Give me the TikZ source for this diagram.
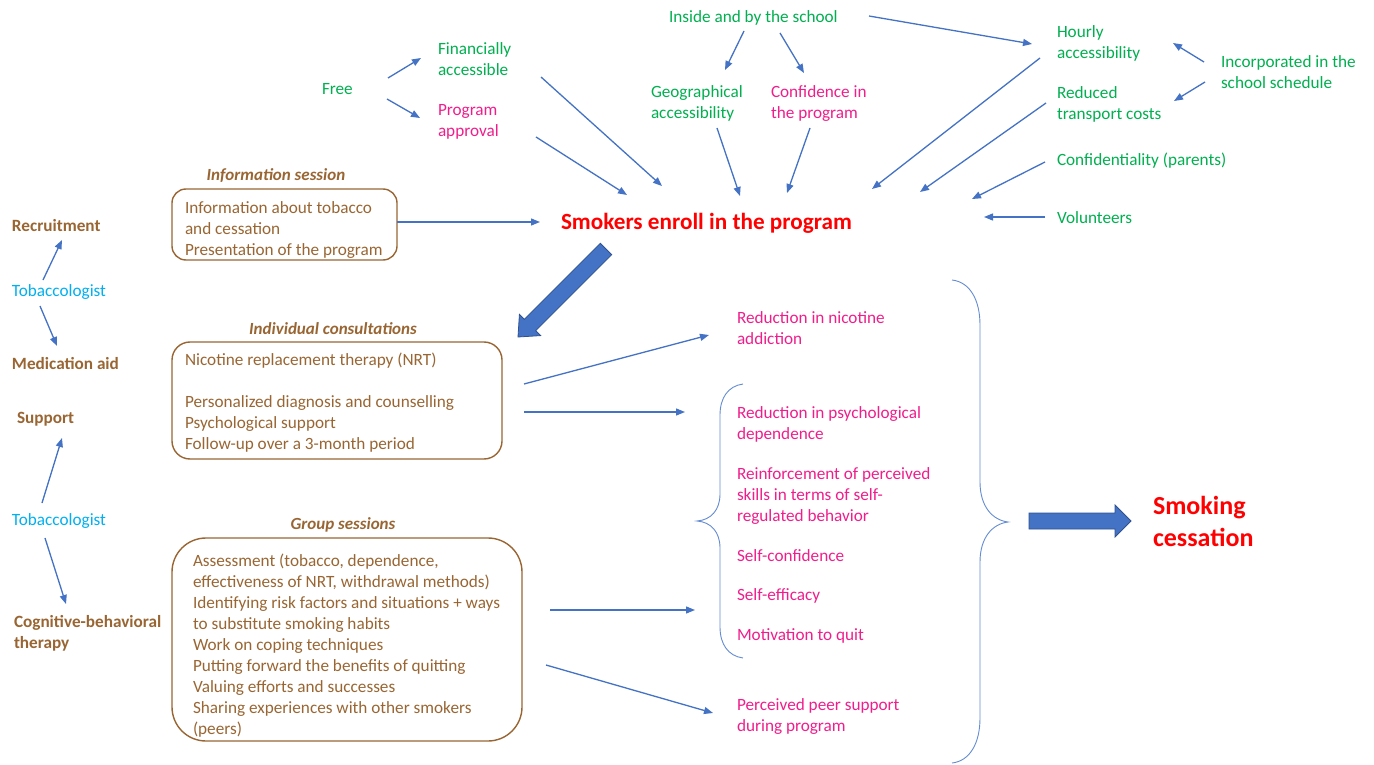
\documentclass[tikz,border=0pt]{standalone}
\usepackage{fontspec}
\setmainfont{Carlito}
\usetikzlibrary{arrows.meta}
\definecolor{cgreen}{RGB}{0,176,80}
\definecolor{cpink}{RGB}{240,30,140}
\definecolor{ccyan}{RGB}{0,176,240}
\definecolor{cblue}{RGB}{68,114,196}
\definecolor{cbluedark}{RGB}{47,82,143}
\definecolor{cbrace}{RGB}{100,140,210}
\definecolor{cred}{RGB}{255,0,0}
\definecolor{cbrown}{RGB}{153,102,51}
\begin{document}
\begin{tikzpicture}[x=1pt,y=-1pt,
  txt/.style={anchor=west,inner sep=0pt,outer sep=0pt,align=left,yshift=-1pt,font=\fontsize{17.2}{21}\selectfont},
  grn/.style={txt,text=cgreen},
  pnk/.style={txt,text=cpink},
  cyn/.style={txt,text=ccyan},
  brt/.style={txt,text=cbrown},
  brn/.style={txt,text=cbrown,font=\fontsize{17.2}{21}\selectfont\bfseries},
  ttl/.style={inner sep=0pt,yshift=-1.5pt,text=cbrown,font=\fontsize{17}{21}\selectfont\bfseries\itshape},
  arr/.style={draw=cblue,line width=1.3pt,-{Triangle[length=9pt,width=7pt]}},
  boxa/.style={draw=cbrown,line width=1.4pt,anchor=north west,inner sep=0pt,outer sep=0pt},
  bigarr/.style={fill=cblue,draw=cbluedark,line width=0.8pt},
  brace/.style={draw=cbrace,line width=0.9pt}]
\useasboundingbox (0,0) rectangle (1374,765);
\fill[white] (0,0) rectangle (1374,765);

% top nodes
\node[grn] (free) at (322,88) {Free};
\node[grn] (fin) at (438,58.5) {Financially\\accessible};
\node[pnk] (appr) at (438,120.5) {Program\\approval};
\node[grn] (inside) at (669,17) {Inside and by the school};
\node[grn] (geo) at (651,102.5) {Geographical\\accessibility};
\node[pnk] (conf) at (771,102.5) {Confidence in\\the program};
\node[grn] (hour) at (1057,42.5) {Hourly\\accessibility};
\node[grn] (incorp) at (1221,71.5) {Incorporated in the\\school schedule};
\node[grn] (redu) at (1057,103.5) {Reduced\\transport costs};
\node[grn] (confid) at (1057,160) {Confidentiality (parents)};
\node[grn] (vol) at (1057,217) {Volunteers};
\node[txt,text=cred,font=\fontsize{23.2}{28}\selectfont\bfseries] (smk) at (561,222) {Smokers enroll in the program};

% left column
\node[brn] (rec) at (12,225) {Recruitment};
\node[cyn] (tob1) at (12,291) {Tobaccologist};
\node[brn] (med) at (12,363) {Medication aid};
\node[brn] (sup) at (17,418) {Support};
\node[cyn] (tob2) at (12,520) {Tobaccologist};
\node[brn] (cbt) at (14,632.5) {Cognitive-behavioral\\therapy};

% titles and boxes
\node[ttl] (t1) at (276,174) {Information session};
\node[ttl] (t2) at (333,327) {Individual consultations};
\node[ttl] (t3) at (343,523) {Group sessions};
\node[boxa,rounded corners=14pt,minimum width=225pt,minimum height=71pt] (box1) at (172,189) {};
\node[boxa,rounded corners=18pt,minimum width=330pt,minimum height=117pt] (box2) at (172,342) {};
\node[boxa,rounded corners=34pt,minimum width=350pt,minimum height=203pt] (box3) at (172,538) {};
\node[brt] (box1t) at (185,229) {Information about tobacco\\and cessation\\Presentation of the program};
\node[brt] (box2t) at (185,401.5) {Nicotine replacement therapy (NRT)\\[21pt]Personalized diagnosis and counselling\\Psychological support\\Follow-up over a 3-month period};
\node[brt] (box3t) at (193,644.5) {Assessment (tobacco, dependence,\\effectiveness of NRT, withdrawal methods)\\Identifying risk factors and situations + ways\\to substitute smoking habits\\Work on coping techniques\\Putting forward the benefits of quitting\\Valuing efforts and successes\\Sharing experiences with other smokers\\(peers)};

% outcomes
\node[pnk] (nic) at (737,327.5) {Reduction in nicotine\\addiction};
\node[pnk] (psy) at (737,423.5) {Reduction in psychological\\dependence};
\node[pnk] (reinf) at (737,495) {Reinforcement of perceived\\skills in terms of self-\\regulated behavior};
\node[pnk] (sconf) at (737,555) {Self-confidence};
\node[pnk] (seff) at (737,595) {Self-efficacy};
\node[pnk] (motiv) at (737,635) {Motivation to quit};
\node[pnk] (peer) at (737,715.5) {Perceived peer support\\during program};
\node[txt,yshift=1pt,text=cred,font=\fontsize{26}{32}\selectfont\bfseries] (cess) at (1153,521.5) {Smoking\\cessation};

% braces
\coordinate (sb) at (697,521);
\coordinate (bb) at (1008,522);
\draw[brace] (743,384) .. controls (728,386) and (720,398) .. (720,415) -- (720,494)
  .. controls (720,510) and (711,520) .. (sb) .. controls (711,522) and (720,532) .. (720,548)
  -- (720,627) .. controls (720,644) and (728,656) .. (743,658);
\draw[brace] (952,280) .. controls (970,282) and (980,300) .. (980,325) -- (980,482)
  .. controls (980,506) and (992,520) .. (bb) .. controls (992,524) and (980,538) .. (980,562)
  -- (980,718) .. controls (980,743) and (970,761) .. (952,763);

% connectors
\draw[arr] ([shift={(66,-11)}]free.west) -- ([shift={(-17,-1.5)}]fin.west);
\draw[arr] ([shift={(65,10)}]free.west) -- ([shift={(-18,-3.5)}]appr.west);
\draw[arr] ([shift={(103,17.5)}]fin.west) -- ([shift={(101,-37)}]smk.west);
\draw[arr] ([shift={(98,15.5)}]appr.west) -- ([shift={(66,-28)}]smk.west);
\draw[arr] ([shift={(75,13)}]inside.west) -- ([shift={(74,-33.5)}]geo.west);
\draw[arr] ([shift={(111,15)}]inside.west) -- ([shift={(33,-30.5)}]conf.west);
\draw[arr] ([shift={(200,-2)}]inside.west) -- ([shift={(-25,0.5)}]hour.west);
\draw[arr] ([shift={(66,24.5)}]geo.west) -- ([shift={(179,-27)}]smk.west);
\draw[arr] ([shift={(39,24.5)}]conf.west) -- ([shift={(226,-30)}]smk.west);
\draw[arr] ([shift={(-17,14.5)}]hour.west) -- ([shift={(311,-34)}]smk.west);
\draw[arr] ([shift={(-17,-10.5)}]incorp.west) -- ([shift={(116,-0.5)}]hour.west);
\draw[arr] ([shift={(-16,9.5)}]incorp.west) -- ([shift={(117,-3.5)}]redu.west);
\draw[arr] ([shift={(-11,-1.5)}]redu.west) -- ([shift={(359,-31)}]smk.west);
\draw[arr] ([shift={(-12,1)}]confid.west) -- ([shift={(411,-24)}]smk.west);
\draw[arr] ([shift={(-12,-1)}]vol.west) -- ([shift={(423,-6)}]smk.west);
\draw[arr] ([shift={(0,33)}]box1.north east) -- ([shift={(-21,-1)}]smk.west);
\draw[arr] ([shift={(31,-12)}]tob1.west) -- ([shift={(50,14)}]rec.west);
\draw[arr] ([shift={(28,14)}]tob1.west) -- ([shift={(45,-18)}]med.west);
\draw[arr] ([shift={(30,-18)}]tob2.west) -- ([shift={(45,19)}]sup.west);
\draw[arr] ([shift={(33,17)}]tob2.west) -- ([shift={(52,-29.5)}]cbt.west);
\draw[arr] ([shift={(22,42)}]box2.north east) -- ([shift={(-28,6.5)}]nic.west);
\draw[arr] ([shift={(22,70)}]box2.north east) -- ([shift={(-12,-109)}]sb);
\draw[arr] ([shift={(28,72)}]box3.north east) -- ([shift={(-2,89)}]sb);
\draw[arr] ([shift={(24,127)}]box3.north east) -- ([shift={(-24,-3.5)}]peer.west);

% block arrows
\filldraw[bigarr] (600.3,243.3) -- (611.7,254.7) -- (535.7,330.7) -- (540.6,335.6) -- (518,337)
  -- (519.4,314.4) -- (524.3,319.3) -- cycle;
\filldraw[bigarr] (1029,513) -- (1115,513) -- (1115,505) -- (1131,521) -- (1115,537) -- (1115,529)
  -- (1029,529) -- cycle;
\end{tikzpicture}
\end{document}
